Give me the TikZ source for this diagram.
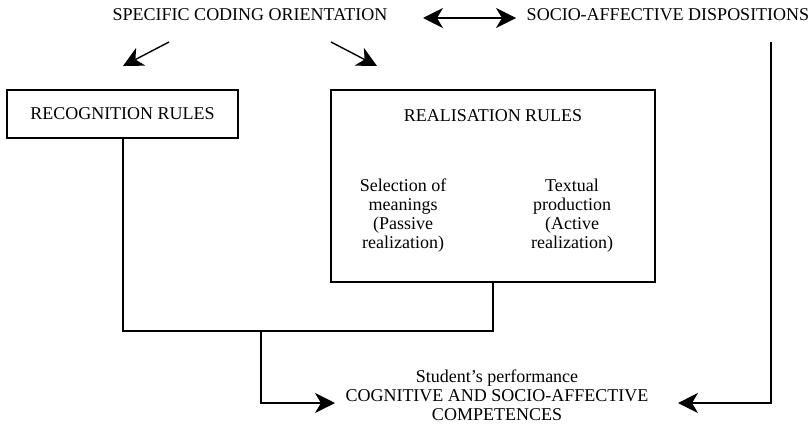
\documentclass[tikz,border=0pt]{standalone}
\usepackage{fontspec}
\setmainfont{Liberation Serif}
\usetikzlibrary{arrows.meta}
\begin{document}
\begin{tikzpicture}[x=1pt,y=-1pt,
  every node/.style={font=\fontsize{18}{19}\selectfont, inner sep=0pt},
  rulebox/.style={draw, line width=1.4pt},
  conn/.style={line width=1.4pt},
  arr/.style={conn, -{Stealth[length=20pt,width=20pt,inset=6pt]}},
  darr/.style={conn, {Stealth[length=20pt,width=20pt,inset=6pt]}-{Stealth[length=20pt,width=20pt,inset=6pt]}}]
\useasboundingbox (0,0) rectangle (810,428);
% top texts
\node (spec) at (250,15) {SPECIFIC CODING ORIENTATION};
\node (socio) at (668,15) {SOCIO-AFFECTIVE DISPOSITIONS};
% boxes
\node[rulebox, minimum width=231pt, minimum height=48pt] (recog) at (122.5,114) {RECOGNITION RULES};
\node[rulebox, minimum width=324pt, minimum height=192pt] (real) at (493,186) {};
\node (realtitle) at (493,116) {REALISATION RULES};
\node[align=center] (sel) at (403,215.5) {Selection of\\meanings\\(Passive\\realization)};
\node[align=center] (text) at (572,215.5) {Textual\\production\\(Active\\realization)};
% bottom text
\node[align=center] (perf) at (497,395) {Student's performance\\COGNITIVE AND SOCIO-AFFECTIVE\\COMPETENCES};
% coordinates
\coordinate (dl) at (423,18);
\coordinate (dr) at (516,18);
\coordinate (a1s) at (169,42);
\coordinate (a1e) at (123,66);
\coordinate (a2s) at (331,42);
\coordinate (a2e) at (377,66);
\coordinate (j1) at (123,331);
\coordinate (j2) at (493,331);
\coordinate (j3) at (261,331);
\coordinate (j4) at (261,403);
\coordinate (pl) at (335,403);
\coordinate (rs) at (771,42);
\coordinate (rc) at (771,403);
\coordinate (pr) at (678,403);
% connectors
\draw[darr] (dl) -- (dr);
\draw[arr] (a1s) -- (a1e);
\draw[arr] (a2s) -- (a2e);
\draw[conn] (recog.south -| j1) -- (j1) -- (j2) -- (real.south -| j2);
\draw[arr] (j3) -- (j4) -- (pl);
\draw[arr] (rs) -- (rc) -- (pr);
\end{tikzpicture}
\end{document}
